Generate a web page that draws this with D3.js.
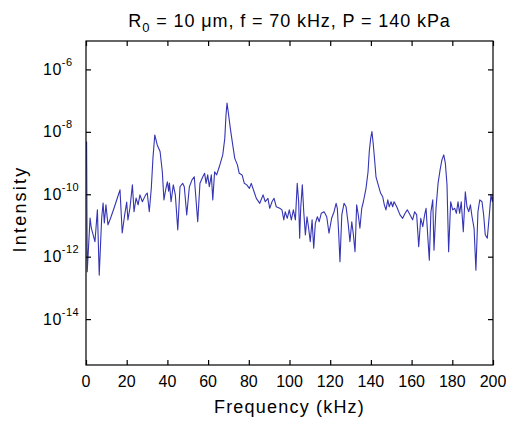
<!DOCTYPE html>
<html>
<head>
<meta charset="utf-8">
<script src="https://cdn.jsdelivr.net/npm/d3@7"></script>
<style>
  html, body { margin: 0; padding: 0; background: #fff; }
  text { font-family: "Liberation Sans", Arial, Helvetica, sans-serif; fill: #000; }
</style>
</head>
<body>
<svg id="chart" width="506" height="422"></svg>
<script>
// ---- data ----
const freqKHz = [
  0.3, 0.6, 2.0, 2.6, 4.4, 5.6, 6.5, 7.7, 8.4, 9.0, 9.8, 10.8, 12.1, 13.8, 15.4, 16.7, 17.8, 19.0, 20.0, 20.6,
  21.6, 22.8, 23.6, 24.6, 25.6, 26.5, 27.7, 29.3, 30.1, 31.1, 32.1, 32.9, 33.8, 35.0, 36.4, 37.5, 38.3, 39.3, 40.0, 40.6,
  41.0, 41.8, 42.9, 43.9, 45.1, 46.2, 47.5, 48.3, 49.5, 50.8, 52.1, 53.2, 54.9, 56.0, 57.4, 58.3, 59.0, 59.8, 60.6, 61.6,
  62.3, 63.2, 64.2, 65.5, 67.2, 68.2, 68.8, 69.3, 70.1, 70.9, 72.1, 73.1, 74.4, 75.3, 76.7, 77.8, 79.0, 80.3, 81.2, 82.6,
  83.7, 85.4, 87.0, 88.1, 89.4, 90.3, 91.4, 92.4, 93.5, 95.2, 96.3, 97.2, 97.9, 98.9, 99.9, 100.9, 101.9, 102.9, 103.8, 104.5,
  105.0, 105.5, 106.3, 107.0, 107.8, 108.6, 109.4, 110.2, 111.1, 111.9, 112.7, 113.7, 114.6, 115.6, 117.0, 118.3, 119.4, 120.7, 121.9, 122.9,
  123.5, 124.2, 124.8, 125.7, 126.8, 127.8, 128.9, 129.7, 130.6, 131.4, 132.2, 133.0, 133.8, 134.6, 135.5, 136.3, 137.6, 138.6, 139.2, 139.9,
  140.5, 141.2, 141.9, 142.5, 143.6, 144.8, 145.8, 146.6, 147.4, 148.3, 149.0, 149.9, 150.7, 151.4, 152.7, 154.3, 155.6, 156.8, 157.9, 159.2,
  160.5, 161.5, 162.5, 163.5, 164.5, 165.5, 166.4, 167.1, 167.9, 168.7, 169.5, 170.4, 171.0, 172.0, 173.0, 174.0, 174.9, 175.8, 176.6, 177.4,
  178.2, 179.2, 180.2, 181.2, 182.0, 182.8, 183.6, 184.4, 185.4, 186.4, 187.2, 188.1, 188.9, 189.7, 190.7, 191.6, 192.6, 193.5, 194.6, 195.4,
  196.2, 197.2, 198.2, 199.0, 199.7, 200.0
];
// log10 of the intensity at each frequency
const log10Intensity = [
  -8.31, -12.48, -10.76, -11.08, -11.52, -10.50, -12.59, -10.76, -10.28, -10.92, -10.34, -10.98, -10.76, -10.44, -10.12, -9.86, -11.24, -10.66, -10.25, -10.82,
  -10.44, -9.70, -10.56, -10.12, -10.34, -10.02, -10.24, -10.02, -9.96, -10.56, -9.80, -8.84, -8.10, -8.42, -8.63, -9.28, -10.18, -9.80, -9.60, -9.90,
  -9.64, -10.24, -9.70, -10.02, -11.14, -9.76, -9.65, -9.76, -10.66, -9.76, -9.54, -9.44, -10.88, -9.65, -9.44, -9.33, -9.65, -9.38, -9.76, -9.38,
  -10.18, -9.28, -9.38, -9.12, -8.74, -8.21, -7.46, -7.08, -7.46, -7.88, -8.42, -8.85, -9.06, -9.33, -9.38, -9.65, -9.70, -9.81, -9.65, -9.92,
  -10.13, -10.29, -10.02, -10.24, -10.13, -10.45, -10.24, -10.13, -10.40, -10.45, -10.50, -10.82, -10.56, -10.77, -10.50, -10.82, -10.50, -10.82, -9.65, -10.24,
  -11.41, -10.45, -9.70, -10.56, -11.30, -10.72, -11.09, -11.52, -10.82, -11.73, -10.93, -10.72, -10.88, -10.61, -10.56, -10.72, -11.25, -10.77, -10.56, -10.29,
  -10.45, -11.30, -12.16, -10.66, -10.29, -10.40, -10.98, -11.52, -10.88, -11.30, -11.84, -10.34, -10.66, -11.09, -10.45, -10.24, -9.81, -9.28, -8.63, -8.21,
  -7.99, -8.42, -8.96, -9.44, -9.70, -9.97, -10.08, -10.34, -10.50, -10.18, -10.40, -10.24, -10.40, -10.24, -10.40, -10.66, -10.77, -10.61, -10.50, -10.66,
  -10.82, -10.56, -10.66, -11.68, -10.77, -11.04, -10.66, -10.45, -11.30, -12.11, -10.56, -10.18, -11.79, -10.45, -9.65, -9.22, -8.90, -8.74, -9.01, -9.70,
  -11.84, -10.24, -10.50, -10.45, -10.61, -10.24, -10.61, -10.24, -11.20, -9.92, -10.40, -10.56, -10.34, -10.72, -11.09, -12.43, -10.56, -10.18, -10.24, -10.66,
  -11.30, -11.41, -10.66, -10.02, -10.24, -10.02
];
const xTicks = [0, 20, 40, 60, 80, 100, 120, 140, 160, 180, 200];
const yTickExponents = [-6, -8, -10, -12, -14];
const xDomain = [0, 200];
const yDomain = [Math.pow(10, -15.47), Math.pow(10, -5.09)];

const titleParts = { main: "R", sub: "0", rest: " = 10 μm, f = 70 kHz, P = 140 kPa" };
const xLabel = "Frequency (kHz)";
const yLabel = "Intensity";

// ---- layout ----
const plot = { left: 86, right: 493, top: 41, bottom: 365 };
const tickLen = 5;

const svg = d3.select("#chart");
const x = d3.scaleLinear().domain(xDomain).range([plot.left, plot.right]);
const y = d3.scaleLog().domain(yDomain).range([plot.bottom, plot.top]);

const data = freqKHz.map((f, i) => ({ f, v: Math.pow(10, log10Intensity[i]) }));

svg.append("defs").append("clipPath").attr("id", "clip")
  .append("rect").attr("x", plot.left).attr("y", plot.top)
  .attr("width", plot.right - plot.left).attr("height", plot.bottom - plot.top);

// line
const line = d3.line().x(d => x(d.f)).y(d => y(d.v));
svg.append("path").datum(data)
  .attr("clip-path", "url(#clip)")
  .attr("fill", "none")
  .attr("stroke", "#3434b4")
  .attr("stroke-width", 1.1)
  .attr("stroke-linejoin", "round")
  .attr("d", line);

// box
svg.append("rect")
  .attr("x", plot.left).attr("y", plot.top)
  .attr("width", plot.right - plot.left).attr("height", plot.bottom - plot.top)
  .attr("fill", "none").attr("stroke", "#000").attr("stroke-width", 1.2);

// axes with inward ticks (using d3 axes)
const xAxisB = d3.axisBottom(x).tickValues(xTicks).tickSize(-tickLen).tickFormat("");
const xAxisT = d3.axisTop(x).tickValues(xTicks).tickSize(-tickLen).tickFormat("");
const yVals = yTickExponents.map(e => Math.pow(10, e));
const yAxisL = d3.axisLeft(y).tickValues(yVals).tickSize(-tickLen).tickFormat("");
const yAxisR = d3.axisRight(y).tickValues(yVals).tickSize(-tickLen).tickFormat("");

function styleAxis(g) {
  g.select(".domain").remove();
  g.selectAll(".tick line").attr("stroke", "#000").attr("stroke-width", 1.2);
}
svg.append("g").attr("transform", `translate(0,${plot.bottom})`).call(xAxisB).call(styleAxis);
svg.append("g").attr("transform", `translate(0,${plot.top})`).call(xAxisT).call(styleAxis);
svg.append("g").attr("transform", `translate(${plot.left},0)`).call(yAxisL).call(styleAxis);
svg.append("g").attr("transform", `translate(${plot.right},0)`).call(yAxisR).call(styleAxis);

// x tick labels
svg.append("g").selectAll("text").data(xTicks).join("text")
  .attr("x", d => x(d)).attr("y", plot.bottom + 22)
  .attr("text-anchor", "middle").attr("font-size", 16)
  .text(d => d);

// y tick labels 10^e
const yl = svg.append("g").selectAll("text").data(yTickExponents).join("text")
  .attr("x", 43).attr("y", d => y(Math.pow(10, d)) + 5.5)
  .attr("font-size", 16).attr("letter-spacing", 0.5);
yl.append("tspan").text("10");
yl.append("tspan").attr("font-size", 11).attr("dy", -9).text(d => "-" + Math.abs(d));

// title
const t = svg.append("text").attr("x", (plot.left + plot.right) / 2).attr("y", 27)
  .attr("text-anchor", "middle").attr("font-size", 18).attr("letter-spacing", 0.9);
t.append("tspan").text(titleParts.main);
t.append("tspan").attr("font-size", 13).attr("dy", 5).text(titleParts.sub);
t.append("tspan").attr("dy", -5).text(titleParts.rest);

// axis labels
svg.append("text").attr("x", (plot.left + plot.right) / 2).attr("y", 413)
  .attr("text-anchor", "middle").attr("font-size", 18).attr("letter-spacing", 1.2).text(xLabel);
svg.append("text").attr("transform", `translate(26,209) rotate(-90)`)
  .attr("text-anchor", "middle").attr("font-size", 18).attr("letter-spacing", 2.2).text(yLabel);
</script>
</body>
</html>
